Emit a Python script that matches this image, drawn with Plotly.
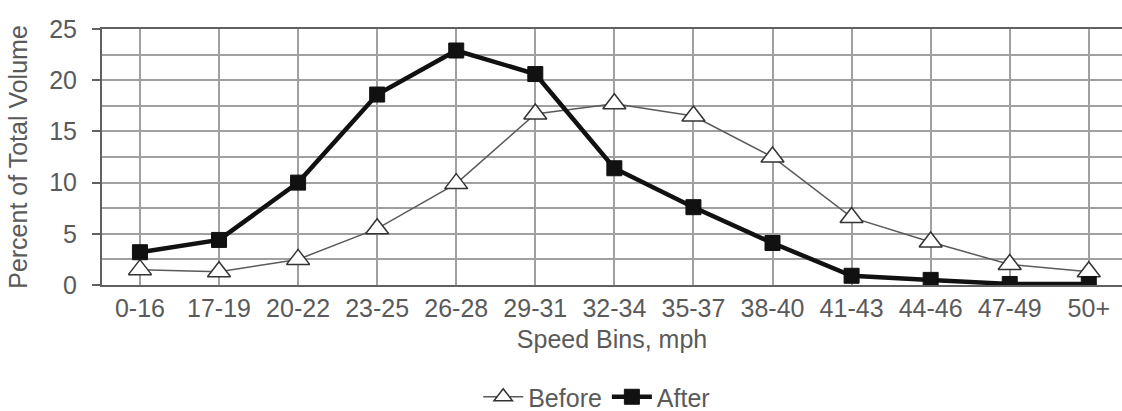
import plotly.graph_objects as go

categories = ["0-16", "17-19", "20-22", "23-25", "26-28", "29-31", "32-34",
              "35-37", "38-40", "41-43", "44-46", "47-49", "50+"]
before = [1.5, 1.3, 2.5, 5.5, 9.9, 16.7, 17.7, 16.5, 12.5, 6.6, 4.2, 2.0, 1.3]
after = [3.2, 4.4, 10.0, 18.6, 22.9, 20.6, 11.4, 7.6, 4.1, 0.9, 0.5, 0.1, 0.1]

TXT = "#5a5a5a"
GRID = "#a0a0a0"
AXIS = "#606060"
FONT = "Liberation Sans, Arial, sans-serif"
FS = 25

fig = go.Figure()
fig.add_trace(go.Scatter(
    x=categories, y=before, name="Before", mode="lines+markers",
    line=dict(color="#5a5a5a", width=1.5),
    marker=dict(symbol="triangle-up", size=20, color="white",
                line=dict(color="#333333", width=1.5)),
))
fig.add_trace(go.Scatter(
    x=categories, y=after, name="After", mode="lines+markers",
    line=dict(color="#111111", width=4.5),
    marker=dict(symbol="square", size=15, color="#111111",
                line=dict(color="#111111", width=1)),
))

fig.update_layout(
    width=1122, height=411,
    margin=dict(l=102, r=0, t=29, b=126, autoexpand=False),
    paper_bgcolor="white", plot_bgcolor="white",
    font=dict(family=FONT, size=FS, color=TXT),
    showlegend=True,
    legend=dict(orientation="h", x=0.485, xanchor="center", y=-0.4375,
                yanchor="middle", font=dict(size=FS, color=TXT),
                itemwidth=40, tracegroupgap=0, bgcolor="rgba(0,0,0,0)"),
    xaxis=dict(
        type="category", range=[-0.48, 12.42], automargin=False,
        showgrid=True, gridcolor=GRID, gridwidth=1.5,
        ticks="",
        tickfont=dict(size=FS, color=TXT), ticklabelstandoff=0,
        title=dict(text="Speed Bins, mph", font=dict(size=FS, color=TXT), standoff=9),
        showline=True, mirror=True, linecolor=AXIS, linewidth=2, zeroline=False,
    ),
    yaxis=dict(
        range=[0, 25], dtick=5, tick0=0, automargin=False,
        showgrid=True, gridcolor=GRID, gridwidth=1.5,
        minor=dict(dtick=2.5, showgrid=True, gridcolor=GRID, gridwidth=1.5),
        ticks="outside", ticklen=8, tickcolor=AXIS, tickwidth=1.5,
        tickfont=dict(size=FS, color=TXT), ticklabelstandoff=10,
        title=dict(text="Percent of Total Volume", font=dict(size=FS, color=TXT), standoff=14),
        showline=True, linecolor=AXIS, linewidth=2,
        zeroline=False,
    ),
)

fig.write_html("out.html", config={"displayModeBar": False},
               post_script="document.body.style.margin='0';")
